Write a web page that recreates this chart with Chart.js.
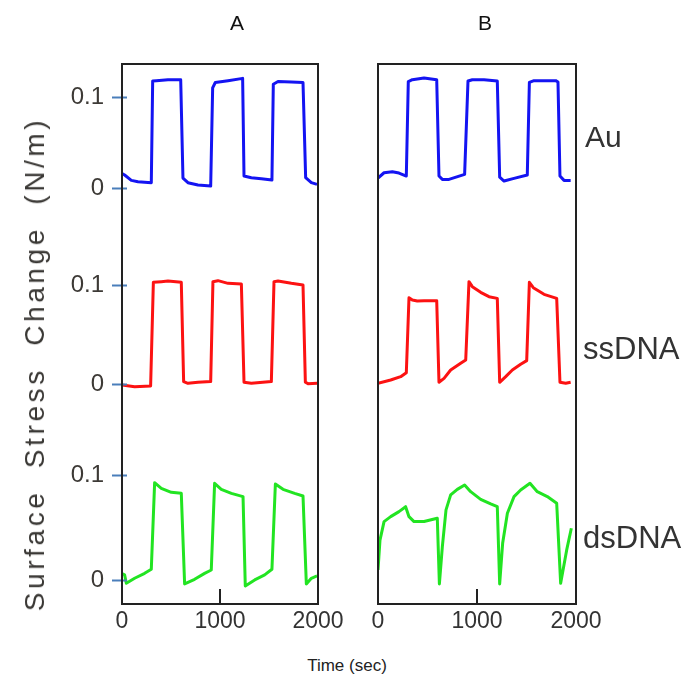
<!DOCTYPE html>
<html>
<head>
<meta charset="utf-8">
<script src="https://cdn.jsdelivr.net/npm/chart.js@4.4.0/dist/chart.umd.min.js"></script>
<style>
    body { margin: 0; background: #fff; }
    #fig { position: relative; width: 685px; height: 683px; overflow: hidden; font-family: 'Liberation Sans', Arial, sans-serif; color: #333; }
    canvas { position: absolute; top: 0; }
    #chartA { left: 0; }
    #chartB { left: 350px; }
    .lbl { position: absolute; white-space: nowrap; line-height: 1; transform: translate(0, -50%); }
    .ctr { transform: translate(-50%, -50%); }
</style>
</head>
<body>
<div id="fig">
    <canvas id="chartA" width="350" height="644"></canvas>
    <canvas id="chartB" width="256" height="644"></canvas>
    <div class="lbl ctr" style="left:237px; top:22px; font-size:21px; color:#111;">A</div>
    <div class="lbl ctr" style="left:485px; top:22px; font-size:21px; color:#111;">B</div>
    <div class="lbl" style="left:585px; top:137px; font-size:30px;">Au</div>
    <div class="lbl" style="left:583px; top:348px; font-size:31px;">ssDNA</div>
    <div class="lbl" style="left:583px; top:537px; font-size:31px;">dsDNA</div>
    <div class="lbl ctr" style="left:347px; top:665px; font-size:17px; color:#222;">Time (sec)</div>
    <div class="lbl" style="left:35px; top:364px; font-size:28px; letter-spacing:3.6px; word-spacing:10px; color:#3a3835; transform: translate(-50%, -50%) rotate(-90deg);">Surface Stress Change (N/m)</div>
</div>
<script>
// tick values
const xTicks = [0, 1000, 2000];
const yTicks = [0, 0.1];

// panel A (time in sec, surface stress in N/m)
const auTimeA = [0, 27, 95, 163, 299, 313, 350, 469, 599, 622, 673, 775, 905, 925, 952, 1082, 1231, 1245, 1320, 1422, 1530, 1544, 1592, 1728, 1847, 1874, 1932, 1990];
const auValA  = [0.016, 0.0143, 0.0084, 0.007, 0.0059, 0.1176, 0.118, 0.119, 0.119, 0.011, 0.0059, 0.0033, 0.0022, 0.110, 0.116, 0.118, 0.1205, 0.0132, 0.0114, 0.0103, 0.0088, 0.114, 0.117, 0.1165, 0.116, 0.0114, 0.0059, 0.004];
const ssTimeA = [0, 129, 292, 320, 401, 469, 605, 629, 673, 775, 905, 928, 979, 1082, 1218, 1245, 1320, 1524, 1551, 1592, 1728, 1847, 1871, 1898, 1990];
const ssValA  = [-0.001, -0.0027, -0.002, 0.1027, 0.1034, 0.104, 0.1027, 0.0024, 0.0007, 0.0017, 0.0024, 0.1034, 0.1044, 0.1017, 0.101, 0.0017, 0.0007, 0.0024, 0.1034, 0.104, 0.1017, 0.1, 0.0017, 0.0003, 0.0007];
const dsTimeA = [0, 27, 44, 129, 231, 299, 333, 401, 503, 605, 639, 741, 843, 911, 945, 1013, 1116, 1235, 1258, 1354, 1456, 1530, 1565, 1643, 1762, 1847, 1881, 1932, 1990];
const dsValA  = [0.006, 0.0048, -0.0032, 0.0016, 0.0063, 0.0102, 0.0927, 0.0873, 0.0835, 0.0825, -0.0038, 0.0006, 0.0063, 0.0095, 0.092, 0.0863, 0.0825, 0.0794, -0.0057, 0, 0.0048, 0.0102, 0.0914, 0.0863, 0.0825, 0.08, -0.0038, 0.0016, 0.0038];

// panel B
const auTimeB = [0, 61, 145, 212, 286, 306, 347, 465, 593, 616, 650, 717, 875, 909, 953, 1071, 1205, 1229, 1273, 1374, 1508, 1529, 1576, 1795, 1818, 1838, 1879, 1946];
const auValB  = [0.011, 0.0168, 0.018, 0.0165, 0.0132, 0.117, 0.119, 0.121, 0.119, 0.0132, 0.0095, 0.0095, 0.015, 0.1176, 0.119, 0.119, 0.1176, 0.012, 0.0077, 0.0106, 0.0143, 0.116, 0.118, 0.118, 0.1165, 0.0132, 0.0084, 0.0084];
const ssTimeB = [0, 128, 229, 286, 313, 347, 397, 465, 593, 616, 667, 734, 835, 886, 919, 953, 1037, 1121, 1205, 1229, 1290, 1357, 1441, 1502, 1529, 1569, 1677, 1805, 1838, 1896, 1946];
const ssValB  = [0.0007, 0.004, 0.0074, 0.0114, 0.0872, 0.0848, 0.0838, 0.0842, 0.0842, 0.0017, 0.0057, 0.0141, 0.0209, 0.0242, 0.1034, 0.0983, 0.0926, 0.0882, 0.0865, 0.0017, 0.0074, 0.0141, 0.0199, 0.0236, 0.1027, 0.0973, 0.0906, 0.0865, 0.0017, 0.0007, 0.0017];
const dsTimeB = [0, 20, 61, 128, 212, 279, 313, 364, 465, 599, 620, 650, 687, 734, 801, 875, 936, 1037, 1138, 1205, 1229, 1259, 1307, 1374, 1441, 1535, 1609, 1710, 1805, 1845, 1906, 1953];
const dsValB  = [0.0095, 0.038, 0.0556, 0.0603, 0.0651, 0.0698, 0.0603, 0.0556, 0.0556, 0.0587, -0.0038, 0.0317, 0.0667, 0.081, 0.0863, 0.0905, 0.0841, 0.0768, 0.0724, 0.0698, -0.0038, 0.0349, 0.0635, 0.0794, 0.0857, 0.0921, 0.0841, 0.0794, 0.073, -0.0032, 0.0286, 0.0492];

const pts = (t, v) => t.map((x, i) => ({ x: x, y: v[i] }));

// box around each panel + inward x tick + y tick marks
const frame = {
    id: 'frame',
    afterDatasetsDraw(chart, args, opts) {
        const ctx = chart.ctx;
        const a = chart.chartArea;
        ctx.save();
        if (opts.yTicks) {
            ctx.strokeStyle = '#4a7ebb';
            ctx.lineWidth = 2;
            Object.values(chart.scales).forEach(s => {
                if (s.axis !== 'y') return;
                s.ticks.forEach(t => {
                    const py = Math.round(s.getPixelForValue(t.value)) + 0.5;
                    ctx.beginPath();
                    ctx.moveTo(a.left - 10, py);
                    ctx.lineTo(a.left + 5, py);
                    ctx.stroke();
                });
            });
        }
        ctx.strokeStyle = '#222';
        ctx.lineWidth = 2;
        const xs = chart.scales.x;
        xs.ticks.forEach(t => {
            const px = xs.getPixelForValue(t.value);
            ctx.beginPath();
            ctx.moveTo(px, a.bottom);
            ctx.lineTo(px, a.bottom - 15);
            ctx.stroke();
        });
        ctx.strokeRect(a.left, a.top, a.right - a.left, a.bottom - a.top);
        ctx.restore();
    }
};

function yScale(min, max, weight, order, show) {
    return {
        type: 'linear',
        position: 'left',
        stack: 'rows',
        stackWeight: weight,
        weight: order,
        min: min,
        max: max,
        display: show,
        afterBuildTicks: s => { s.ticks = yTicks.map(v => ({ value: v })); },
        afterFit: s => { s.width = show ? 122 : 0; },
        grid: { display: false, drawTicks: false },
        border: { display: false },
        ticks: {
            padding: 18,
            color: '#3d3a36',
            font: { family: "'Liberation Sans'", size: 24 },
            callback: v => String(v)
        }
    };
}

function makePanel(id, au, ss, ds, showY, pad) {
    const line = (data, color, axis) => ({
        data: data,
        yAxisID: axis,
        borderColor: color,
        borderWidth: 3,
        pointRadius: 0,
        tension: 0,
        borderJoinStyle: 'round',
        fill: false
    });
    new Chart(document.getElementById(id).getContext('2d'), {
        type: 'line',
        data: {
            datasets: [
                line(au, '#1414f2', 'yAu'),
                line(ss, '#fc1212', 'ySs'),
                line(ds, '#22e422', 'yDs')
            ]
        },
        options: {
            responsive: false,
            animation: false,
            layout: { padding: pad },
            plugins: { legend: { display: false }, tooltip: { enabled: false }, frame: { yTicks: showY } },
            scales: {
                x: {
                    type: 'linear',
                    min: 0,
                    max: 2000,
                    afterBuildTicks: s => { s.ticks = xTicks.map(v => ({ value: v })); },
                    afterFit: s => { s.height = 40; },
                    grid: { display: false, drawTicks: false },
                    border: { display: false },
                    ticks: {
                        padding: 4,
                        maxRotation: 0,
                        autoSkip: false,
                        color: '#333',
                        font: { family: "'Liberation Sans'", size: 23 },
                        callback: v => String(v)
                    }
                },
                yDs: yScale(-0.0229, 0.1714, 204, 1, showY),
                ySs: yScale(-0.0162, 0.1455, 160, 2, showY),
                yAu: yScale(-0.0571, 0.1363, 176, 3, showY)
            }
        },
        plugins: [frame]
    });
}

makePanel('chartA', pts(auTimeA, auValA), pts(ssTimeA, ssValA), pts(dsTimeA, dsValA), true, { top: 64, left: 0, right: 32, bottom: 0 });
makePanel('chartB', pts(auTimeB, auValB), pts(ssTimeB, ssValB), pts(dsTimeB, dsValB), false, { top: 64, left: 28, right: 30, bottom: 0 });
</script>
</body>
</html>
